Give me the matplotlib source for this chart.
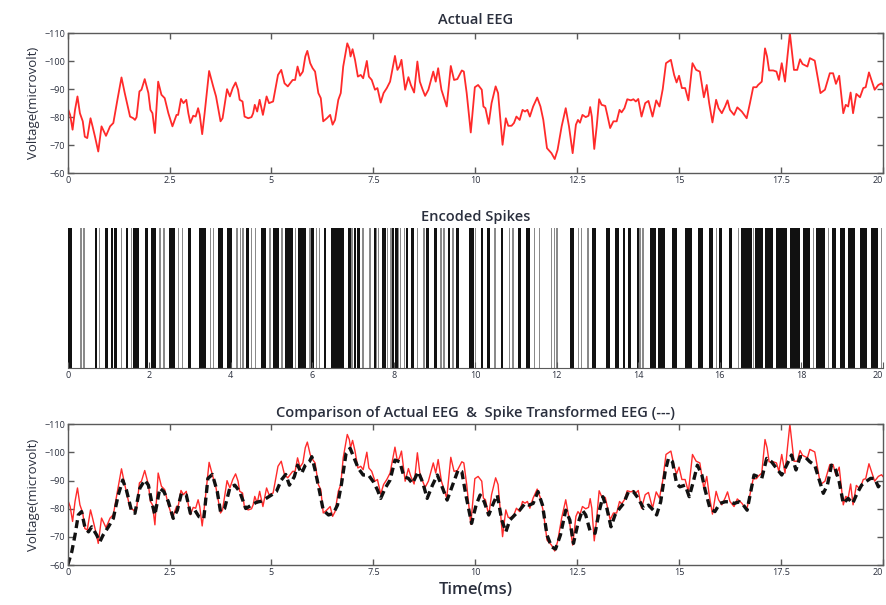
import matplotlib
matplotlib.use('Agg')
import matplotlib.pyplot as plt
import numpy as np

plt.rcParams['font.family'] = ['Open Sans', 'DejaVu Sans']

# actual EEG (time in ms, voltage in microvolt)
eeg_t = [0.00, 0.06, 0.12, 0.18, 0.24, 0.30, 0.37, 0.42, 0.48, 0.56, 0.61, 0.67,
         0.75, 0.83, 0.94, 1.04, 1.12, 1.22, 1.32, 1.40, 1.53, 1.61, 1.65, 1.69,
         1.76, 1.81, 1.89, 1.98, 2.03, 2.08, 2.14, 2.22, 2.30, 2.38, 2.47, 2.57,
         2.67, 2.71, 2.78, 2.84, 2.91, 2.96, 3.01, 3.08, 3.14, 3.20, 3.24, 3.30,
         3.36, 3.47, 3.57, 3.64, 3.75, 3.80, 3.91, 3.98, 4.05, 4.12, 4.18, 4.22,
         4.29, 4.34, 4.43, 4.51, 4.55, 4.59, 4.65, 4.71, 4.79, 4.88, 4.94, 5.04,
         5.16, 5.24, 5.32, 5.40, 5.52, 5.58, 5.64, 5.70, 5.77, 5.83, 5.88, 5.95,
         6.01, 6.07, 6.15, 6.21, 6.27, 6.36, 6.44, 6.50, 6.56, 6.64, 6.70, 6.76,
         6.86, 6.91, 6.94, 6.99, 7.05, 7.12, 7.19, 7.25, 7.34, 7.39, 7.46, 7.54,
         7.60, 7.68, 7.75, 7.83, 7.91, 8.03, 8.09, 8.14, 8.19, 8.28, 8.36, 8.42,
         8.50, 8.58, 8.64, 8.71, 8.77, 8.85, 8.97, 9.03, 9.09, 9.17, 9.30, 9.40,
         9.48, 9.56, 9.67, 9.72, 9.79, 9.89, 9.99, 10.07, 10.16, 10.20, 10.25, 10.33,
         10.40, 10.50, 10.56, 10.67, 10.75, 10.81, 10.89, 10.95, 11.01, 11.09, 11.16, 11.22,
         11.28, 11.34, 11.42, 11.52, 11.60, 11.67, 11.76, 11.87, 11.95, 12.02, 12.12, 12.22,
         12.30, 12.39, 12.47, 12.52, 12.57, 12.63, 12.71, 12.78, 12.82, 12.86, 12.92, 12.98,
         13.04, 13.10, 13.19, 13.24, 13.31, 13.39, 13.47, 13.54, 13.59, 13.66, 13.73, 13.82,
         13.88, 13.94, 14.00, 14.08, 14.17, 14.25, 14.35, 14.44, 14.52, 14.60, 14.68, 14.80,
         14.88, 14.94, 15.00, 15.07, 15.15, 15.23, 15.33, 15.42, 15.51, 15.61, 15.68, 15.74,
         15.82, 15.91, 15.97, 16.05, 16.13, 16.19, 16.25, 16.35, 16.43, 16.54, 16.60, 16.66,
         16.74, 16.82, 16.90, 16.94, 17.03, 17.11, 17.16, 17.21, 17.31, 17.39, 17.45, 17.52,
         17.60, 17.66, 17.72, 17.82, 17.90, 17.97, 18.03, 18.15, 18.21, 18.33, 18.47, 18.58,
         18.70, 18.78, 18.85, 18.93, 19.03, 19.09, 19.15, 19.21, 19.27, 19.35, 19.44, 19.52,
         19.58, 19.66, 19.72, 19.80, 19.89, 19.97, 20.00]
eeg_uv = [-83.2, -80.8, -75.5, -82.6, -87.4, -81.4, -78.5, -73.0, -72.5, -79.6, -76.7, -73.0,
          -67.7, -76.7, -73.3, -76.7, -77.9, -86.2, -94.2, -88.6, -80.2, -79.6, -79.0, -80.0,
          -89.2, -89.8, -93.6, -88.6, -82.6, -81.4, -74.3, -92.7, -88.0, -86.8, -81.4, -76.7,
          -80.8, -80.8, -86.5, -85.0, -86.2, -81.4, -77.9, -80.5, -80.2, -83.2, -80.8, -73.9,
          -81.4, -96.5, -91.0, -87.4, -78.5, -79.6, -90.0, -87.4, -90.4, -92.4, -89.8, -86.2,
          -85.6, -80.2, -79.6, -80.0, -81.4, -84.4, -82.0, -86.2, -80.8, -87.4, -85.0, -85.6,
          -95.1, -96.9, -92.1, -91.0, -93.3, -93.3, -98.1, -94.8, -96.3, -101.7, -103.7, -99.3,
          -97.5, -96.3, -88.6, -86.8, -78.5, -79.6, -80.8, -77.3, -79.0, -86.2, -88.6, -98.1,
          -106.4, -104.6, -101.7, -104.3, -100.5, -94.5, -95.1, -93.9, -100.1, -94.5, -93.3, -89.8,
          -90.4, -85.2, -88.6, -90.4, -92.7, -101.9, -96.9, -98.1, -100.5, -89.8, -94.3, -91.5,
          -88.8, -99.9, -92.7, -89.8, -87.6, -89.8, -96.3, -92.7, -97.5, -89.8, -83.8, -98.3,
          -93.3, -93.6, -96.7, -96.3, -88.6, -74.5, -90.7, -91.5, -89.8, -83.8, -83.2, -77.6,
          -85.0, -91.0, -88.6, -70.1, -79.6, -76.9, -76.9, -77.9, -80.2, -79.0, -82.6, -82.0,
          -82.6, -80.2, -83.8, -87.0, -83.8, -79.0, -68.9, -67.1, -65.0, -68.3, -76.7, -83.2,
          -76.7, -67.1, -77.3, -79.0, -78.0, -80.8, -80.0, -80.5, -83.6, -80.2, -68.6, -76.7,
          -86.4, -84.4, -84.0, -80.8, -76.1, -78.5, -78.5, -82.6, -81.7, -83.2, -86.4, -86.0,
          -86.4, -85.6, -86.5, -80.2, -85.0, -85.8, -80.2, -86.0, -83.8, -90.0, -99.3, -100.5,
          -95.1, -92.4, -94.8, -90.4, -90.4, -86.0, -99.3, -96.9, -96.3, -87.1, -91.5, -85.0,
          -78.1, -86.2, -83.2, -81.4, -83.8, -86.0, -82.6, -80.8, -83.5, -82.0, -80.8, -79.6,
          -85.0, -90.7, -90.7, -91.5, -92.7, -104.6, -101.7, -96.7, -96.7, -96.3, -93.3, -99.3,
          -92.7, -101.7, -110.0, -96.9, -96.9, -100.7, -99.0, -98.1, -101.1, -100.2, -88.6, -89.8,
          -95.7, -95.7, -91.9, -94.8, -81.4, -84.4, -83.8, -88.8, -81.4, -88.3, -87.1, -90.4,
          -90.7, -96.0, -93.3, -89.8, -91.5, -92.1, -91.5]

# EEG rebuilt from the spike train
rec_t = [0.00, 0.10, 0.18, 0.26, 0.34, 0.42, 0.51, 0.59, 0.71, 0.79, 0.87, 1.00,
         1.12, 1.24, 1.35, 1.44, 1.57, 1.65, 1.77, 1.89, 1.98, 2.06, 2.14, 2.26,
         2.36, 2.47, 2.59, 2.69, 2.79, 2.91, 3.01, 3.12, 3.22, 3.34, 3.44, 3.55,
         3.67, 3.75, 3.85, 3.98, 4.10, 4.22, 4.37, 4.51, 4.63, 4.75, 4.87, 5.00,
         5.12, 5.24, 5.35, 5.44, 5.56, 5.64, 5.74, 5.83, 5.93, 5.99, 6.07, 6.18,
         6.27, 6.40, 6.52, 6.62, 6.72, 6.83, 6.93, 7.03, 7.13, 7.25, 7.38, 7.50,
         7.60, 7.68, 7.79, 7.91, 8.03, 8.15, 8.25, 8.36, 8.46, 8.60, 8.71, 8.82,
         8.95, 9.07, 9.17, 9.31, 9.46, 9.58, 9.67, 9.77, 9.91, 10.02, 10.12, 10.22,
         10.33, 10.46, 10.54, 10.65, 10.75, 10.85, 10.97, 11.09, 11.22, 11.32, 11.42, 11.54,
         11.65, 11.76, 11.87, 11.97, 12.09, 12.22, 12.32, 12.41, 12.52, 12.63, 12.71, 12.82,
         12.94, 13.04, 13.13, 13.23, 13.33, 13.43, 13.54, 13.64, 13.76, 13.88, 14.00, 14.13,
         14.25, 14.37, 14.45, 14.55, 14.66, 14.74, 14.84, 14.94, 15.02, 15.15, 15.25, 15.35,
         15.45, 15.56, 15.64, 15.76, 15.88, 16.00, 16.13, 16.25, 16.35, 16.48, 16.58, 16.67,
         16.76, 16.84, 16.94, 17.03, 17.15, 17.27, 17.39, 17.52, 17.64, 17.76, 17.87, 17.97,
         18.09, 18.21, 18.33, 18.44, 18.54, 18.64, 18.74, 18.82, 18.93, 19.03, 19.15, 19.26,
         19.37, 19.48, 19.58, 19.70, 19.80, 19.89, 19.97]
rec_uv = [-60.0, -64.7, -70.7, -77.8, -79.0, -73.6, -71.8, -73.6, -70.7, -68.3, -70.7, -73.6,
          -76.6, -84.9, -90.2, -86.7, -79.0, -78.4, -87.3, -90.2, -88.4, -82.5, -77.8, -87.3,
          -86.1, -82.5, -76.6, -79.5, -85.5, -84.9, -78.4, -79.5, -77.2, -76.6, -90.8, -92.2,
          -86.1, -79.0, -80.1, -87.5, -88.4, -86.1, -80.1, -81.3, -82.3, -82.7, -83.7, -84.9,
          -86.1, -90.2, -92.2, -88.4, -91.4, -95.5, -92.6, -95.5, -96.7, -98.5, -93.8, -86.1,
          -79.5, -77.8, -78.4, -81.3, -89.0, -99.7, -101.5, -97.9, -94.4, -92.0, -92.0, -89.6,
          -86.7, -83.7, -87.3, -90.2, -97.3, -96.7, -91.4, -90.8, -89.0, -93.2, -89.4, -83.7,
          -88.4, -92.0, -88.4, -83.1, -89.0, -93.8, -93.2, -84.9, -74.8, -81.3, -84.9, -82.5,
          -77.8, -82.5, -84.9, -76.0, -71.8, -76.0, -77.8, -79.5, -81.9, -81.3, -81.9, -86.1,
          -81.3, -70.7, -66.5, -65.7, -70.7, -79.5, -76.0, -67.7, -74.8, -79.5, -77.8, -72.0,
          -71.3, -79.0, -84.3, -80.1, -73.6, -77.8, -80.1, -81.9, -86.1, -86.1, -83.7, -80.1,
          -81.3, -79.5, -77.8, -82.5, -93.2, -97.9, -96.7, -89.0, -87.8, -88.4, -84.3, -89.6,
          -95.5, -92.0, -86.7, -80.1, -79.0, -81.9, -82.5, -82.5, -81.9, -82.5, -81.3, -79.5,
          -86.1, -92.0, -91.4, -90.8, -97.9, -96.7, -94.4, -92.0, -95.5, -99.1, -93.8, -98.5,
          -98.5, -96.7, -95.5, -90.2, -85.5, -88.4, -95.5, -94.9, -89.6, -81.9, -83.7, -81.9,
          -85.5, -88.4, -89.6, -90.8, -90.8, -87.8, -89.6]

# encoded spikes: onset and length (ms)
spike_on = [0.00, 0.30, 0.38, 0.67, 0.76, 0.92, 1.07, 1.14, 1.31, 1.42, 1.55, 1.61,
            1.90, 2.04, 2.25, 2.34, 2.49, 2.71, 2.80, 2.96, 3.22, 3.48, 3.56, 3.70,
            3.90, 4.14, 4.22, 4.28, 4.38, 4.49, 4.59, 4.74, 4.94, 5.03, 5.24, 5.33,
            5.57, 5.65, 5.93, 5.98, 6.09, 6.17, 6.28, 6.47, 6.87, 6.96, 7.02, 7.11,
            7.23, 7.40, 7.51, 7.57, 7.61, 7.72, 7.84, 7.92, 7.96, 8.04, 8.11, 8.15,
            8.25, 8.29, 8.43, 8.56, 8.73, 8.78, 9.00, 9.14, 9.22, 9.33, 9.44, 9.53,
            9.84, 10.00, 10.15, 10.29, 10.46, 10.62, 10.82, 10.90, 11.05, 11.25, 11.44, 11.56,
            11.85, 11.92, 11.99, 12.32, 12.51, 12.60, 12.74, 12.86, 13.20, 13.44, 13.62, 13.76,
            13.96, 14.03, 14.10, 14.29, 14.49, 14.82, 15.14, 15.47, 15.74, 15.91, 15.99, 16.22,
            16.44, 16.52, 16.82, 16.86, 17.12, 17.39, 17.72, 18.03, 18.28, 18.37, 18.65, 18.76,
            18.96, 19.15, 19.44, 19.72, 19.95]
spike_len = [0.11, 0.04, 0.04, 0.05, 0.03, 0.06, 0.05, 0.06, 0.03, 0.06, 0.03, 0.15,
             0.06, 0.12, 0.04, 0.04, 0.14, 0.03, 0.04, 0.07, 0.17, 0.04, 0.04, 0.12,
             0.14, 0.04, 0.04, 0.04, 0.06, 0.03, 0.04, 0.12, 0.04, 0.15, 0.04, 0.20,
             0.04, 0.19, 0.03, 0.06, 0.03, 0.03, 0.07, 0.31, 0.07, 0.03, 0.06, 0.05,
             0.04, 0.04, 0.05, 0.03, 0.04, 0.08, 0.03, 0.03, 0.05, 0.06, 0.03, 0.04,
             0.03, 0.05, 0.07, 0.04, 0.03, 0.08, 0.07, 0.04, 0.04, 0.05, 0.04, 0.08,
             0.13, 0.03, 0.05, 0.06, 0.04, 0.06, 0.04, 0.04, 0.08, 0.10, 0.03, 0.03,
             0.03, 0.03, 0.03, 0.10, 0.03, 0.03, 0.04, 0.10, 0.10, 0.09, 0.05, 0.05,
             0.05, 0.03, 0.03, 0.14, 0.16, 0.14, 0.19, 0.11, 0.10, 0.03, 0.06, 0.09,
             0.03, 0.28, 0.03, 0.19, 0.18, 0.25, 0.26, 0.18, 0.04, 0.21, 0.04, 0.08,
             0.11, 0.17, 0.16, 0.17, 0.04]

eeg_ticks = [0, 2.5, 5, 7.5, 10, 12.5, 15, 17.5, 20]
eeg_ticklabels = ['0', '2.5', '5', '7.5', '10', '12.5', '15', '17.5', '20']
spike_ticks = [0, 2, 4, 6, 8, 10, 12, 14, 16, 18, 20]
volt_ticks = [-110, -100, -90, -80, -70, -60]

TEXT = '#2a2f3d'
SPINE = '#5a5a5a'


def keep_last_label_inside(ax):
    # the "20" at the right edge would run off the figure otherwise
    ax.get_xticklabels()[-1].set_horizontalalignment('right')


def style_eeg(ax):
    ax.set_xlim(0, 20)
    ax.set_ylim(-60, -110)
    ax.set_xticks(eeg_ticks)
    ax.set_xticklabels(eeg_ticklabels)
    ax.set_yticks(volt_ticks)
    ax.tick_params(direction='in', length=4, width=1, color=SPINE,
                   labelsize=6.5, labelcolor=TEXT, top=True, right=True, pad=2)
    for s in ax.spines.values():
        s.set_color(SPINE)
        s.set_linewidth(1)
    ax.set_ylabel('Voltage(microvolt)', fontsize=9.5, color=TEXT, labelpad=3)
    keep_last_label_inside(ax)


def main():
    fig = plt.figure(figsize=(8.86, 6.05), dpi=100)

    # top: actual EEG
    ax1 = fig.add_axes([0.0764, 0.714, 0.920, 0.231])
    ax1.plot(eeg_t, eeg_uv, color='#ff2a2a', lw=1.3)
    style_eeg(ax1)
    ax1.set_title('Actual EEG', fontsize=10.5, color=TEXT, pad=7,
                  fontweight='semibold')

    # middle: spike train
    ax2 = fig.add_axes([0.0764, 0.392, 0.920, 0.231])
    bars_black = [(o, l) for o, l in zip(spike_on, spike_len) if l >= 0.05]
    bars_grey = [(o, l) for o, l in zip(spike_on, spike_len) if l < 0.05]
    ax2.broken_barh(bars_grey, (0, 1), facecolors='#8a8a8a', edgecolor='none')
    ax2.broken_barh(bars_black, (0, 1), facecolors='#111111', edgecolor='none')
    ax2.set_xlim(0, 20)
    ax2.set_ylim(0, 1)
    ax2.set_xticks(spike_ticks)
    ax2.set_yticks([])
    for side in ['top', 'left', 'right']:
        ax2.spines[side].set_visible(False)
    ax2.spines['bottom'].set_color(SPINE)
    ax2.tick_params(direction='in', length=4, color=SPINE, labelsize=6.5,
                    labelcolor=TEXT, pad=2)
    keep_last_label_inside(ax2)
    ax2.set_title('Encoded Spikes', fontsize=10.5, color=TEXT, pad=5,
                  fontweight='semibold')

    # bottom: comparison
    ax3 = fig.add_axes([0.0764, 0.066, 0.920, 0.2326])
    ax3.plot(eeg_t, eeg_uv, color='#ff2a2a', lw=1.0)
    ax3.plot(rec_t, rec_uv, color='#111111', lw=2.4, ls=(0, (2.4, 1.4)))
    style_eeg(ax3)
    ax3.set_title('Comparison of Actual EEG  &  Spike Transformed EEG (---)',
                  fontsize=10.5, color=TEXT, pad=5, fontweight='semibold')
    ax3.set_xlabel('Time(ms)', fontsize=12, color=TEXT, labelpad=4,
                   fontweight='semibold')

    fig.savefig('out.png', dpi=100)


if __name__ == '__main__':
    main()
